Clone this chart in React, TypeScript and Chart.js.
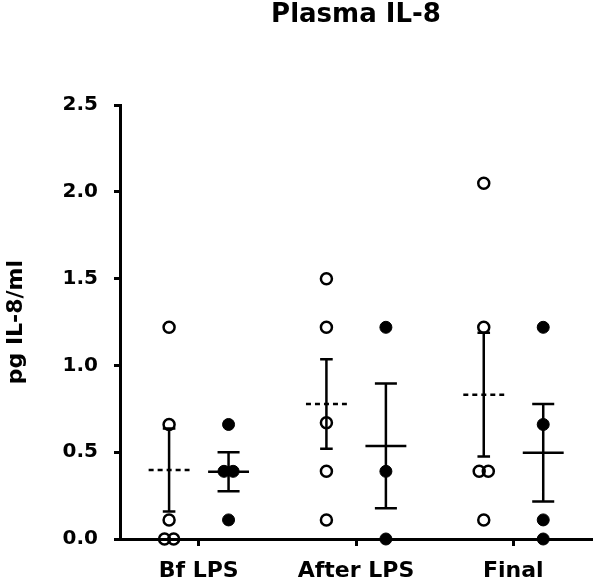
import React, { useEffect, useRef } from "react";
import { Chart, registerables } from "chart.js";

Chart.register(...registerables);

const categories = ["Bf LPS", "After LPS", "Final"];
const openValues: number[][] = [
  [1.22, 0.66, 0.11, 0, 0],
  [1.5, 1.22, 0.67, 0.39, 0.11],
  [2.05, 1.22, 0.39, 0.39, 0.11],
];
const filledValues: number[][] = [
  [0.66, 0.39, 0.39, 0.11],
  [1.22, 0.39, 0],
  [1.22, 0.66, 0.11, 0],
];
const yTicks = [0, 0.5, 1, 1.5, 2, 2.5];
const chartTitle = "Plasma IL-8";
const yTitle = "pg IL-8/ml";

const FONT = "'DejaVu Sans', sans-serif";
const OPEN_OFFSET = -0.188;
const FILLED_OFFSET = 0.19;
const JITTER = 0.058;
const MEAN_HALF = 0.13;
const CAP_OPEN = 0.04;
const CAP_FILLED = 0.07;

const mean = (a: number[]) => a.reduce((s, v) => s + v, 0) / a.length;
const sem = (a: number[]) => {
  const m = mean(a);
  const v = a.reduce((s, x) => s + (x - m) * (x - m), 0) / (a.length - 1);
  return Math.sqrt(v) / Math.sqrt(a.length);
};

function pointsFor(groups: number[][], offset: number) {
  const pts: { x: number; y: number }[] = [];
  groups.forEach((vals, ci) => {
    const counts: Record<string, number> = {};
    vals.forEach((v) => (counts[v] = (counts[v] || 0) + 1));
    const seen: Record<string, number> = {};
    vals.forEach((v) => {
      const n = counts[v];
      const k = seen[v] || 0;
      seen[v] = k + 1;
      const j = (k - (n - 1) / 2) * JITTER;
      pts.push({ x: ci + offset + j, y: v });
    });
  });
  return pts;
}

function meanLines(groups: number[][], offset: number) {
  const pts: { x: number; y: number | null }[] = [];
  groups.forEach((vals, ci) => {
    const m = mean(vals);
    const c = ci + offset;
    pts.push({ x: c - MEAN_HALF, y: m }, { x: c + MEAN_HALF, y: m }, { x: c, y: null });
  });
  return pts;
}

function errorBars(groups: number[][], offset: number, cap: number) {
  const pts: { x: number; y: number | null }[] = [];
  groups.forEach((vals, ci) => {
    const m = mean(vals);
    const s = sem(vals);
    const c = ci + offset;
    pts.push({ x: c, y: m - s }, { x: c, y: m + s }, { x: c, y: null });
    pts.push({ x: c - cap, y: m + s }, { x: c + cap, y: m + s }, { x: c, y: null });
    pts.push({ x: c - cap, y: m - s }, { x: c + cap, y: m - s }, { x: c, y: null });
  });
  return pts;
}

export default function App() {
  const ref = useRef<HTMLCanvasElement>(null);
  useEffect(() => {
    if (!ref.current) return;
    Chart.defaults.font.family = FONT;
    Chart.defaults.color = "#000";
    const lineCommon = {
      type: "line" as const,
      showLine: true,
      pointRadius: 0,
      borderColor: "#000",
      borderWidth: 2.5,
      spanGaps: false,
      fill: false,
      clip: false as any,
      order: 1,
    };
    const chart = new Chart(ref.current, {
      type: "scatter",
      data: {
        datasets: [
          {
            label: "open",
            data: pointsFor(openValues, OPEN_OFFSET),
            pointRadius: 5.5,
            pointBorderWidth: 2.5,
            pointBorderColor: "#000",
            pointBackgroundColor: "rgba(255,255,255,0)",
            borderColor: "#000",
            clip: false as any,
            order: 0,
          },
          {
            label: "filled",
            data: pointsFor(filledValues, FILLED_OFFSET),
            pointRadius: 6,
            pointBorderWidth: 1,
            pointBorderColor: "#000",
            pointBackgroundColor: "#000",
            borderColor: "#000",
            clip: false as any,
            order: 0,
          },
          { ...lineCommon, label: "openMean", data: meanLines(openValues, OPEN_OFFSET), borderDash: [5, 4] } as any,
          { ...lineCommon, label: "filledMean", data: meanLines(filledValues, FILLED_OFFSET) } as any,
          { ...lineCommon, label: "openErr", data: errorBars(openValues, OPEN_OFFSET, CAP_OPEN) } as any,
          { ...lineCommon, label: "filledErr", data: errorBars(filledValues, FILLED_OFFSET, CAP_FILLED) } as any,
        ],
      },
      options: {
        responsive: false,
        animation: false,
        layout: { padding: { left: 0, right: 3, top: 0, bottom: 0 } },
        plugins: {
          legend: { display: false },
          tooltip: { enabled: false },
          title: {
            display: true,
            text: chartTitle,
            fullSize: false,
            color: "#000",
            font: { family: FONT, size: 26, weight: "bold" },
            padding: { top: 0, bottom: 74 },
          },
        },
        scales: {
          x: {
            type: "linear",
            min: -0.5,
            max: 2.5,
            afterBuildTicks: (scale: any) => {
              scale.ticks = categories.map((_, i) => ({ value: i }));
            },
            afterFit: (scale: any) => {
              scale.height = 46;
            },
            ticks: {
              callback: (v: any) => categories[Math.round(v)] ?? "",
              font: { family: FONT, size: 22, weight: "bold" },
              color: "#000",
              padding: 12,
              maxRotation: 0,
              autoSkip: false,
            },
            grid: {
              drawOnChartArea: false,
              drawTicks: true,
              tickLength: 7,
              tickWidth: 3,
              tickColor: "#000",
              color: "#000",
            },
            border: { display: true, width: 3, color: "#000" },
          },
          y: {
            type: "linear",
            min: 0,
            max: 2.5,
            afterBuildTicks: (scale: any) => {
              scale.ticks = yTicks.map((v) => ({ value: v }));
            },
            afterFit: (scale: any) => {
              scale.width = 120;
            },
            ticks: {
              callback: (v: any) => Number(v).toFixed(1),
              font: { family: FONT, size: 20, weight: "bold" },
              color: "#000",
              padding: 16,
            },
            grid: {
              drawOnChartArea: false,
              drawTicks: true,
              tickLength: 6,
              tickWidth: 3,
              tickColor: "#000",
              color: "#000",
            },
            border: { display: true, width: 3, color: "#000" },
            title: {
              display: true,
              text: yTitle,
              color: "#000",
              font: { family: FONT, size: 22, weight: "bold" },
              padding: { top: 3, bottom: 0 },
            },
          },
        },
      } as any,
    });
    return () => chart.destroy();
  }, []);
  return (
    <div style={{ position: "absolute", left: 0, top: 0, width: 600, height: 585, background: "#fff" }}>
      <canvas ref={ref} width={600} height={585} style={{ display: "block" }} />
    </div>
  );
}
